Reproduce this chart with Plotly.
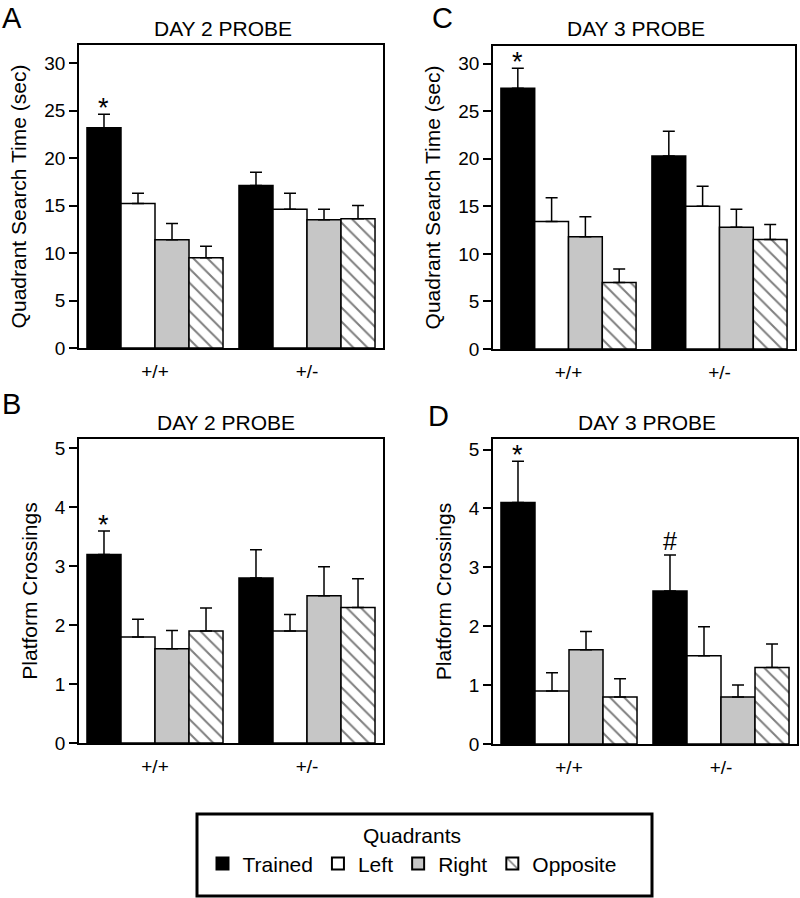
import plotly.graph_objects as go

# ---------------- data ----------------
groups = ["+/+", "+/-"]
quadrants = ["Trained", "Left", "Right", "Opposite"]

# Panel A: Day 2 probe, quadrant search time (sec)  [Trained, Left, Right, Opposite] x [+/+, +/-]
a_mean = [[23.2, 17.1], [15.2, 14.6], [11.4, 13.5], [9.5, 13.6]]
a_se = [[1.4, 1.4], [1.1, 1.7], [1.7, 1.1], [1.2, 1.4]]

# Panel B: Day 2 probe, platform crossings
b_mean = [[3.2, 2.8], [1.8, 1.9], [1.6, 2.5], [1.9, 2.3]]
b_se = [[0.4, 0.48], [0.3, 0.28], [0.31, 0.49], [0.39, 0.49]]

# Panel C: Day 3 probe, quadrant search time (sec)
c_mean = [[27.4, 20.3], [13.4, 15.0], [11.8, 12.8], [7.0, 11.5]]
c_se = [[2.1, 2.6], [2.5, 2.1], [2.1, 1.9], [1.4, 1.6]]

# Panel D: Day 3 probe, platform crossings
d_mean = [[4.1, 2.6], [0.9, 1.5], [1.6, 0.8], [0.8, 1.3]]
d_se = [[0.7, 0.61], [0.31, 0.49], [0.31, 0.2], [0.31, 0.4]]

# significance marks: (quadrant index, group index, symbol)
a_marks = [(0, 0, "*")]
b_marks = [(0, 0, "*")]
c_marks = [(0, 0, "*")]
d_marks = [(0, 0, "*"), (0, 1, "#")]

FONT = "Liberation Sans, Arial, Helvetica, sans-serif"
BARGAP = 0.105

styles = [
    dict(color="black", line=dict(color="black", width=1.5)),
    dict(color="white", line=dict(color="black", width=1.5)),
    dict(color="#c6c6c6", line=dict(color="black", width=1.5)),
    dict(color="white", line=dict(color="black", width=1.5),
         pattern=dict(shape="\\", size=10, solidity=0.2, fgcolor="black", bgcolor="white")),
]

W, H = 800, 898
panels = [
    dict(ax="", mean=a_mean, se=a_se, marks=a_marks, xpx=(79, 383), ypx=(45, 348), ymax=31.9, dtick=5,
         ytitle="Quadrant Search Time (sec)", title="DAY 2 PROBE", letter="A", lpos=(12, 1), ltop=True,
         tpos=(223, 28)),
    dict(ax="2", mean=b_mean, se=b_se, marks=b_marks, xpx=(79, 383), ypx=(439, 743), ymax=5.16, dtick=1,
         ytitle="Platform Crossings", title="DAY 2 PROBE", letter="B", lpos=(11, 404), ltop=False,
         tpos=(226, 422)),
    dict(ax="3", mean=c_mean, se=c_se, marks=c_marks, xpx=(493, 795), ypx=(46, 349), ymax=31.85, dtick=5,
         ytitle="Quadrant Search Time (sec)", title="DAY 3 PROBE", letter="C", lpos=(442, 1), ltop=True,
         tpos=(636, 29)),
    dict(ax="4", mean=d_mean, se=d_se, marks=d_marks, xpx=(493, 797), ypx=(439, 744), ymax=5.18, dtick=1,
         ytitle="Platform Crossings", title="DAY 3 PROBE", letter="D", lpos=(439, 416), ltop=False,
         tpos=(647, 422)),
]

fig = go.Figure()
annotations = []
layout_axes = {}

for pi, p in enumerate(panels):
    xa = "x" + p["ax"]
    ya = "y" + p["ax"]
    for qi, q in enumerate(quadrants):
        fig.add_trace(go.Bar(
            x=groups, y=p["mean"][qi], name=q,
            xaxis=xa, yaxis=ya,
            marker=styles[qi],
            error_y=dict(type="data", symmetric=False, array=p["se"][qi],
                         arrayminus=[0] * len(groups), color="black", thickness=1.5, width=6),
            legendgroup=q, showlegend=(pi == 0),
            offsetgroup=str(qi),
        ))
    for (qi, gi, sym) in p["marks"]:
        off = -(1 - BARGAP) / 2 + (1 - BARGAP) / 8 * (2 * qi + 1)
        annotations.append(dict(
            x=gi + off, y=p["mean"][qi][gi] + p["se"][qi][gi], xref=xa, yref=ya,
            text=sym, showarrow=False, yanchor="bottom", yshift=-11 if sym == "*" else -2,
            font=dict(size=27 if sym == "*" else 25, family=FONT, color="black")))
    annotations.append(dict(x=p["tpos"][0] / W, y=1 - p["tpos"][1] / H, xref="paper", yref="paper",
                            text=p["title"], showarrow=False, xanchor="center", yanchor="middle",
                            font=dict(size=21, family=FONT, color="black")))
    annotations.append(dict(x=p["lpos"][0] / W, y=1 - p["lpos"][1] / H, xref="paper", yref="paper",
                            text=p["letter"], showarrow=False, xanchor="center",
                            yanchor="top" if p["ltop"] else "middle", borderpad=0,
                            font=dict(size=29, family=FONT, color="black")))

    xkey = "xaxis" + p["ax"]
    ykey = "yaxis" + p["ax"]
    layout_axes[xkey] = dict(
        domain=[p["xpx"][0] / W, p["xpx"][1] / W], anchor=ya, type="category",
        range=[-0.5, 1.5], showline=True, mirror=True, linecolor="black", linewidth=1.5,
        ticks="", showgrid=False, zeroline=False, ticklabelstandoff=5,
        tickfont=dict(size=19, family=FONT, color="black"), fixedrange=True)
    layout_axes[ykey] = dict(
        domain=[1 - p["ypx"][1] / H, 1 - p["ypx"][0] / H], anchor=xa,
        range=[0, p["ymax"]], dtick=p["dtick"], tick0=0, showline=True, mirror=True,
        linecolor="black", linewidth=1.5, ticks="outside", ticklen=8, tickwidth=1.5,
        tickcolor="black", showgrid=False, zeroline=False,
        tickfont=dict(size=19, family=FONT, color="black"),
        title=dict(text=p["ytitle"], font=dict(size=21, family=FONT, color="black"), standoff=12),
        fixedrange=True)

# legend frame (box around the legend)
legend_box = dict(type="rect", xref="paper", yref="paper",
                  x0=197 / W, x1=652 / W, y0=1 - 896 / H, y1=1 - 814 / H,
                  line=dict(color="black", width=3), fillcolor="rgba(0,0,0,0)", layer="above")

fig.update_layout(
    width=W, height=H,
    margin=dict(l=0, r=0, t=0, b=0, autoexpand=False),
    paper_bgcolor="white", plot_bgcolor="white",
    barmode="group", bargap=BARGAP, bargroupgap=0,
    font=dict(family=FONT, color="black"),
    annotations=annotations,
    shapes=[legend_box],
    showlegend=True,
    legend=dict(
        orientation="h", x=0.515, xanchor="center", y=1 - 816 / H, yanchor="top",
        title=dict(text="Quadrants", side="top center", font=dict(size=21, family=FONT)),
        font=dict(size=21, family=FONT, color="black"),
        borderwidth=0, bgcolor="rgba(0,0,0,0)",
        itemsizing="constant", tracegroupgap=0,
    ),
    **layout_axes,
)

fig.write_html("out.html",
               config={"displayModeBar": False},
               post_script="document.body.style.margin='0';document.body.style.padding='0';"
                           "document.documentElement.style.overflow='hidden';")
